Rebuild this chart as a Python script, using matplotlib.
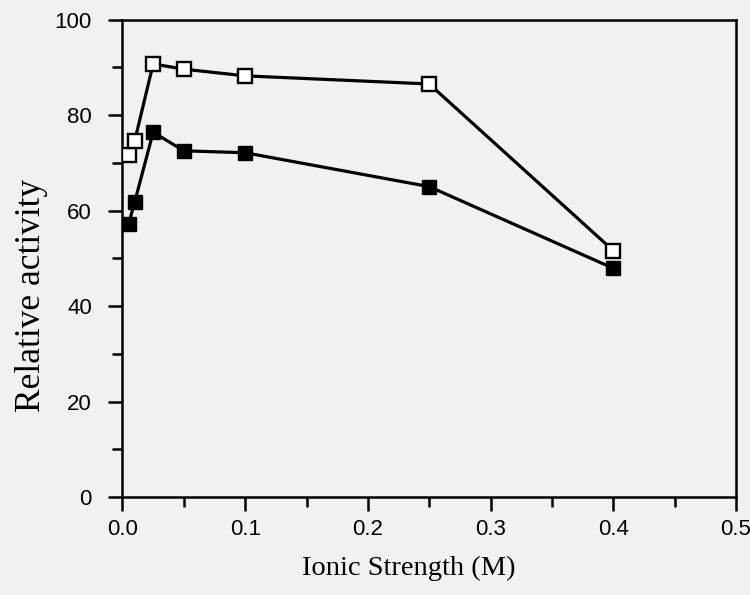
import matplotlib
matplotlib.use("Agg")
import matplotlib.pyplot as plt
from matplotlib.ticker import MultipleLocator

# ------------------------------
# Data
# ------------------------------
ionic_strength = [0.005, 0.01, 0.025, 0.05, 0.1, 0.25, 0.4]
activity_open = [71.6, 74.6, 90.7, 89.6, 88.2, 86.5, 51.6]
activity_filled = [57.2, 61.8, 76.4, 72.5, 72.1, 65.0, 47.9]

bg = '#f1f1ef'

fig = plt.figure(figsize=(7.5, 5.95), dpi=100, facecolor=bg)
ax = fig.add_axes([0.1633, 0.1647, 0.8180, 0.8025], facecolor=bg)

ax.plot(ionic_strength, activity_open, color='black', lw=2.3, marker='s',
        markersize=9.5, markerfacecolor='white', markeredgecolor='black',
        markeredgewidth=1.7, zorder=3)
ax.plot(ionic_strength, activity_filled, color='black', lw=2.3, marker='s',
        markersize=9.5, markerfacecolor='black', markeredgecolor='black',
        zorder=3)

ax.set_xlim(0, 0.5)
ax.set_ylim(0, 100)
ax.xaxis.set_major_locator(MultipleLocator(0.1))
ax.xaxis.set_minor_locator(MultipleLocator(0.05))
ax.yaxis.set_major_locator(MultipleLocator(20))
ax.yaxis.set_minor_locator(MultipleLocator(10))
ax.xaxis.set_major_formatter(plt.FuncFormatter(lambda v, p: f"{v:.1f}"))

for s in ax.spines.values():
    s.set_linewidth(1.8)

ax.tick_params(which='major', direction='out', length=10, width=1.8,
               labelsize=16, top=False, right=False)
ax.tick_params(axis='y', which='major', pad=12)
ax.tick_params(axis='x', which='major', pad=6)
ax.tick_params(which='minor', direction='out', length=7, width=1.8,
               top=False, right=False)
for lbl in ax.get_xticklabels() + ax.get_yticklabels():
    lbl.set_family('Liberation Sans')

ax.set_xlabel('Ionic Strength (M)', family='Liberation Serif', fontsize=20.5)
ax.set_ylabel('Relative activity', family='Liberation Serif', fontsize=25.5)
ax.xaxis.set_label_coords(0.467, -0.124)
ax.yaxis.set_label_coords(-0.121, 0.423)

plt.savefig("out.png", dpi=100, facecolor=bg)
